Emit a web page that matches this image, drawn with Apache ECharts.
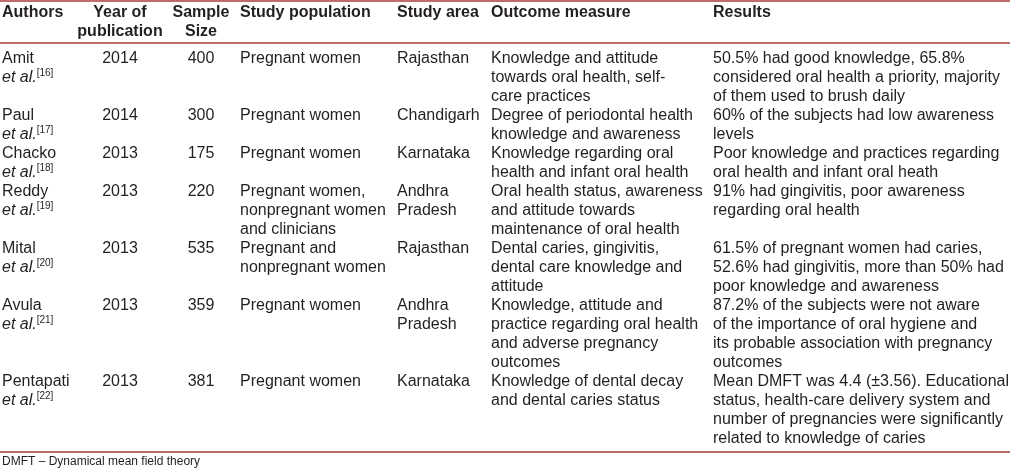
<!DOCTYPE html>
<html><head><meta charset="utf-8">
<script src="https://cdn.jsdelivr.net/npm/echarts@6/dist/echarts.min.js"></script>
<style>html,body{margin:0;padding:0;background:#fff}#c{width:1010px;height:470px}</style>
</head><body><div id="c"></div>
<script>
// ---- data ----
const headers = ['Authors', 'Year of\npublication', 'Sample\nSize', 'Study population', 'Study area', 'Outcome measure', 'Results'];
const authors = ['Amit', 'Paul', 'Chacko', 'Reddy', 'Mital', 'Avula', 'Pentapati'];
const refs = [16, 17, 18, 19, 20, 21, 22];
const years = [2014, 2014, 2013, 2013, 2013, 2013, 2013];
const sampleSizes = [400, 300, 175, 220, 535, 359, 381];
const populations = [
  'Pregnant women', 'Pregnant women', 'Pregnant women',
  'Pregnant women,\nnonpregnant women\nand clinicians',
  'Pregnant and\nnonpregnant women', 'Pregnant women', 'Pregnant women'
];
const areas = ['Rajasthan', 'Chandigarh', 'Karnataka', 'Andhra\nPradesh', 'Rajasthan', 'Andhra\nPradesh', 'Karnataka'];
const outcomes = [
  'Knowledge and attitude\ntowards oral health, self-\ncare practices',
  'Degree of periodontal health\nknowledge and awareness',
  'Knowledge regarding oral\nhealth and infant oral health',
  'Oral health status, awareness\nand attitude towards\nmaintenance of oral health',
  'Dental caries, gingivitis,\ndental care knowledge and\nattitude',
  'Knowledge, attitude and\npractice regarding oral health\nand adverse pregnancy\noutcomes',
  'Knowledge of dental decay\nand dental caries status'
];
const results = [
  '50.5% had good knowledge, 65.8%\nconsidered oral health a priority, majority\nof them used to brush daily',
  '60% of the subjects had low awareness\nlevels',
  'Poor knowledge and practices regarding\noral health and infant oral heath',
  '91% had gingivitis, poor awareness\nregarding oral health',
  '61.5% of pregnant women had caries,\n52.6% had gingivitis, more than 50% had\npoor knowledge and awareness',
  '87.2% of the subjects were not aware\nof the importance of oral hygiene and\nits probable association with pregnancy\noutcomes',
  'Mean DMFT was 4.4 (\u00b13.56). Educational\nstatus, health-care delivery system and\nnumber of pregnancies were significantly\nrelated to knowledge of caries'
];
const footnote = 'DMFT \u2013 Dynamical mean field theory';

// ---- layout ----
const W = 1010, H = 470;
const FONT = '"Liberation Sans", Arial, Helvetica, sans-serif';
const FS = 16, LINE = 19;
const colX = [2, 120, 201, 240, 397, 491, 713];
const colAlign = ['left', 'center', 'center', 'left', 'left', 'left', 'left'];
const HEAD_Y = 13, BODY_Y = 59;
const RULES = [1, 43, 452];
const FOOT_Y = 462;
const TEXT = '#231f20', RULE = '#a83a3a';

const rich = {
  i: {fontStyle: 'italic', fontSize: FS, fontFamily: FONT, lineHeight: LINE, fill: TEXT},
  sup: {fontSize: 10, fontFamily: FONT, lineHeight: 11, verticalAlign: 'top', fill: TEXT}
};

const cells = [];
headers.forEach((h, c) => cells.push({x: colX[c], y: HEAD_Y - LINE / 2, text: h, align: colAlign[c], bold: true}));
let line = 0;
authors.forEach((a, r) => {
  const row = [
    a + '\n{i|et al.}{sup|[' + refs[r] + ']}',
    String(years[r]), String(sampleSizes[r]),
    populations[r], areas[r], outcomes[r], results[r]
  ];
  const top = BODY_Y + line * LINE - LINE / 2;
  row.forEach((t, c) => cells.push({x: colX[c], y: top, text: t, align: colAlign[c]}));
  line += Math.max(...row.map(t => t.split('\n').length));
});
cells.push({x: colX[0], y: FOOT_Y - 8, text: footnote, align: 'left', size: 12, lh: 16});

const chart = echarts.init(document.getElementById('c'), null, {renderer: 'canvas'});
chart.setOption({
  animation: false,
  backgroundColor: '#fff',
  grid: {left: 0, right: 0, top: 0, bottom: 0},
  xAxis: {type: 'value', min: 0, max: W, show: false},
  yAxis: {type: 'value', min: 0, max: H, inverse: true, show: false},
  series: [
    {
      type: 'custom',
      coordinateSystem: 'cartesian2d',
      data: RULES.map(y => [0, y]),
      renderItem: (params, api) => {
        const a = api.coord([0, api.value(1)]);
        const b = api.coord([W, api.value(1)]);
        return {type: 'line', shape: {x1: a[0], y1: a[1], x2: b[0], y2: b[1]},
          style: {stroke: RULE, lineWidth: 1.5}};
      }
    },
    {
      type: 'custom',
      coordinateSystem: 'cartesian2d',
      data: cells.map(c => [c.x, c.y]),
      renderItem: (params, api) => {
        const c = cells[params.dataIndex];
        const p = api.coord([api.value(0), api.value(1)]);
        return {
          type: 'text', x: p[0], y: p[1],
          style: {
            text: c.text, fill: TEXT,
            fontFamily: FONT, fontSize: c.size || FS, fontWeight: c.bold ? 'bold' : 'normal',
            lineHeight: c.lh || LINE, align: c.align, verticalAlign: 'top', rich: rich
          }
        };
      }
    }
  ]
});
</script></body></html>
